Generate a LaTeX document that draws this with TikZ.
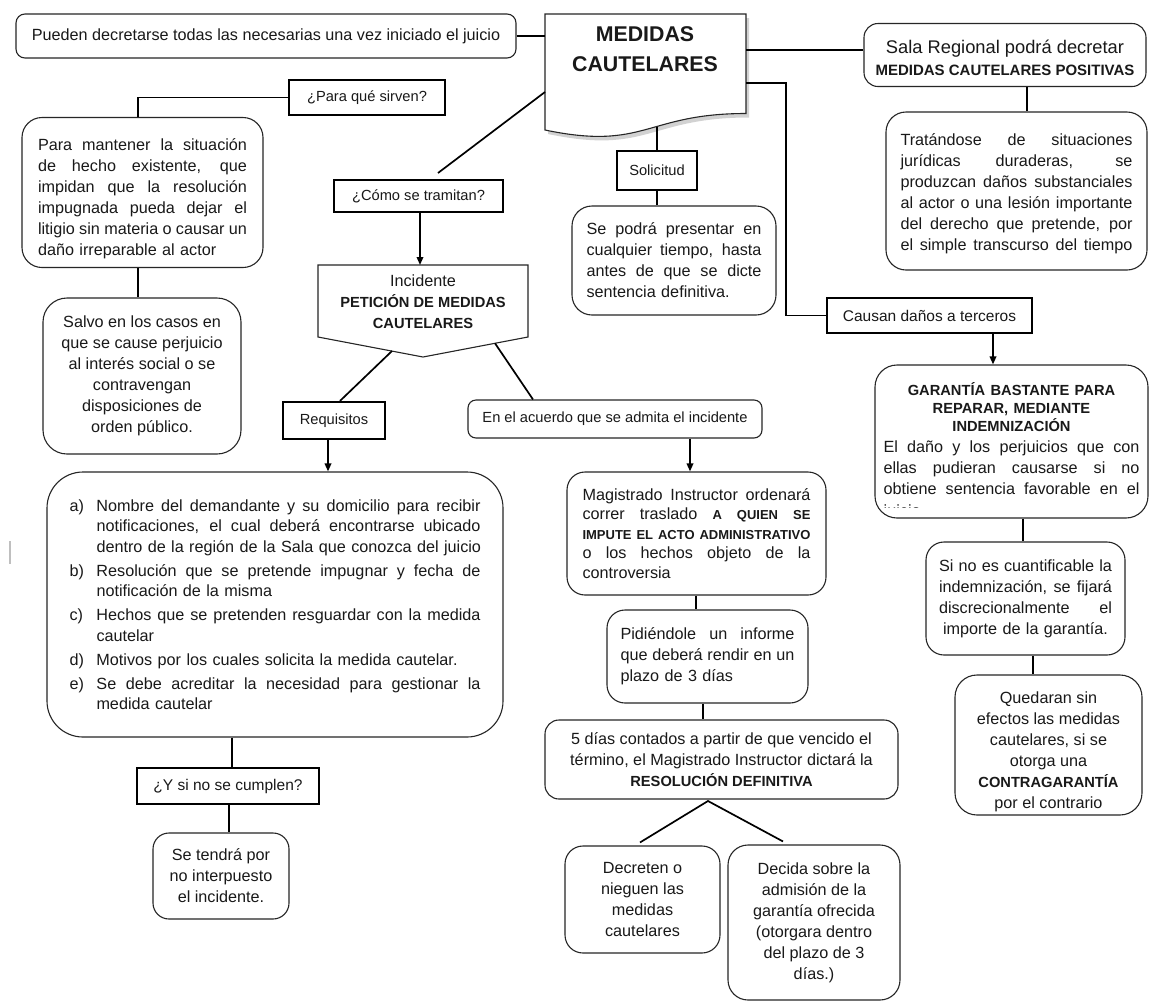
\documentclass[tikz,border=0pt]{standalone}
\usepackage{fontspec}
\setmainfont{Liberation Sans}
\usetikzlibrary{arrows.meta,shadows}

% justified line (spaces stretch to fill), left-aligned last line, list lines
\newcommand\jsp{\spaceskip=0.278em plus 1fil minus 0.15em\relax}
\newcommand\jl[1]{\makebox[\linewidth][s]{\jsp#1}}
\newcommand\lf[1]{\makebox[\linewidth][l]{#1}}
\newcommand\reqi[2]{\makebox[27pt][l]{#1}\makebox[384pt][s]{\jsp#2}}
\newcommand\reqj[1]{\hspace*{27pt}\makebox[384pt][s]{\jsp#1}}
\newcommand\reql[1]{\hspace*{27pt}\makebox[384pt][l]{#1}}
\newcommand\capsb{\fontsize{14.67}{18}\selectfont\bfseries}
\newcommand\regtext{\fontsize{16.2}{21}\selectfont\mdseries}

\begin{document}
\begin{tikzpicture}[x=1pt,y=-1pt,
  every node/.style={inner sep=0pt, font=\fontsize{16.2}{21}\selectfont, text=black!90},
  rbox/.style={draw=black!85, line width=1.1pt, rounded corners=18pt},
  sbox/.style={draw=black, line width=2.2pt, font=\fontsize{14.67}{18}\selectfont},
  sboxl/.style={sbox, font=\fontsize{15.5}{18}\selectfont},
  link/.style={draw=black, line width=1.7pt},
  arr/.style={link, -{Triangle[length=8pt,width=6.5pt]}},
  ]
\fill[white] (0,0) rectangle (1149,1005);
\useasboundingbox (0,0) rectangle (1149,1005);

% ---------- title document shape ----------
\path[draw=black!85, line width=1.1pt, fill=white,
  drop shadow={shadow xshift=3pt, shadow yshift=-4pt, opacity=0.35}]
  (545,14) -- (746,14) -- (746,113.5) .. controls (645.5,113.5) and (645.5,151) .. (545,130) -- cycle;
\node[font=\fontsize{21.33}{30}\selectfont\bfseries, align=center] (medidas) at (645,49) {MEDIDAS\\CAUTELARES};
\coordinate (medW) at (545,36);
\coordinate (medE1) at (746,50);
\coordinate (medE2) at (746,83);
\coordinate (medSW) at (545,92);
\coordinate (medS) at (657,126.5);
\coordinate (bendC) at (786,83);

% ---------- top row ----------
\node[rbox, rounded corners=9pt, minimum width=500pt, minimum height=44pt] (pueden) at (266,36)
  {Pueden decretarse todas las necesarias una vez iniciado el juicio};
\node[rbox, rounded corners=14pt, minimum width=282pt, minimum height=63pt] (sala) at (1005,55) {};
\node[align=center, font=\fontsize{18.3}{22}\selectfont] (salaT) at (1005,57.5)
  {Sala Regional podrá decretar\\{\fontsize{15}{18}\selectfont\bfseries MEDIDAS CAUTELARES POSITIVAS}};

% ---------- right column ----------
\node[rbox, rounded corners=20pt, minimum width=261pt, minimum height=158pt] (trat) at (1016.5,191) {};
\node[text width=232pt, align=center] (tratT) at (1016.5,194)
  {\jl{Tratándose de situaciones}\\ \jl{jurídicas duraderas, se}\\ \jl{produzcan daños substanciales}\\
   \jl{al actor o una lesión importante}\\ \jl{del derecho que pretende, por}\\ \jl{el simple transcurso del tiempo}};
\node[sboxl, minimum width=205pt, minimum height=35pt] (causan) at (929.5,315.5) {Causan daños a terceros};
\node[rbox, rounded corners=22pt, minimum width=273pt, minimum height=153pt] (garantia) at (1011.5,441.5) {};
\node[text width=256pt, align=center] (garantiaT) at (1011.5,438.5)
  {\capsb GARANTÍA BASTANTE PARA\\ REPARAR, MEDIANTE\\ INDEMNIZACIÓN\\
   \regtext\jl{El daño y los perjuicios que con}\\ \jl{ellas pudieran causarse si no}\\ \jl{obtiene sentencia favorable en el}};
\begin{scope}
  \clip (876,380) rectangle (1147,507);
  \node[anchor=base west] (juicio) at (883.5,516) {juicio};
\end{scope}
\node[rbox, rounded corners=18pt, minimum width=199pt, minimum height=113pt, text width=173pt, align=center] (sino) at (1025.5,598.5)
  {\jl{Si no es cuantificable la}\\ \jl{indemnización, se fijará}\\ \jl{discrecionalmente el}\\ importe de la garantía.};
\node[rbox, rounded corners=22pt, minimum width=187pt, minimum height=140pt] (qued) at (1048.5,745) {};
\node[align=center] (quedT) at (1048.5,751.5)
  {Quedaran sin\\ efectos las medidas\\ cautelares, si se\\ otorga una\\ {\capsb CONTRAGARANTÍA}\\ por el contrario};

% ---------- left column ----------
\node[sbox, minimum width=156pt, minimum height=35pt] (sirven) at (367,97.5) {¿Para qué sirven?};
\node[rbox, rounded corners=20pt, minimum width=241pt, minimum height=150pt] (paramant) at (142.5,192.5) {};
\node[text width=209pt, align=center] (paramantT) at (142.5,198.5)
  {\jl{Para mantener la situación}\\ \jl{de hecho existente, que}\\ \jl{impidan que la resolución}\\
   \jl{impugnada pueda dejar el}\\ \jl{litigio sin materia o causar un}\\ \lf{daño irreparable al actor}};
\node[rbox, rounded corners=24pt, minimum width=198pt, minimum height=156pt, align=center] (salvo) at (142,376)
  {Salvo en los casos en\\ que se cause perjuicio\\ al interés social o se\\ contravengan\\ disposiciones de\\ orden público.};

% ---------- procedure ----------
\node[sbox, minimum width=169pt, minimum height=32pt] (como) at (418.5,196) {¿Cómo se tramitan?};
\draw[draw=black!85, line width=1.1pt] (318,265) -- (528,265) -- (528,337) -- (423,357) -- (318,337) -- cycle;
\node[align=center] (incid) at (423,302) {Incidente\\ {\capsb PETICIÓN DE MEDIDAS}\\ {\capsb CAUTELARES}};
\node[sbox, minimum width=102pt, minimum height=37pt] (requis) at (334,420.5) {Requisitos};
\node[rbox, rounded corners=8pt, minimum width=294pt, minimum height=38pt, font=\fontsize{14.67}{18}\selectfont] (acuerdo) at (615,419)
  {En el acuerdo que se admita el incidente};
\node[rbox, rounded corners=36pt, minimum width=456pt, minimum height=265pt, text width=411pt, align=left,
      font=\fontsize{16.2}{20.5}\selectfont] (reqlist) at (275,604.5)
  {\reqi{a)}{Nombre del demandante y su domicilio para recibir}\\
   \reqj{notificaciones, el cual deberá encontrarse ubicado}\\
   \reql{dentro de la región de la Sala que conozca del juicio}\\[3.5pt]
   \reqi{b)}{Resolución que se pretende impugnar y fecha de}\\
   \reql{notificación de la misma}\\[3.5pt]
   \reqi{c)}{Hechos que se pretenden resguardar con la medida}\\
   \reql{cautelar}\\[3.5pt]
   \makebox[27pt][l]{d)}\makebox[384pt][l]{Motivos por los cuales solicita la medida cautelar.}\\[3.5pt]
   \reqi{e)}{Se debe acreditar la necesidad para gestionar la}\\
   \reql{medida cautelar}};
\node[sboxl, minimum width=182pt, minimum height=36pt] (ysino) at (228,786) {¿Y si no se cumplen?};
\node[rbox, rounded corners=16pt, minimum width=136pt, minimum height=86pt, align=center] (setendra) at (221,876)
  {Se tendrá por\\ no interpuesto\\ el incidente.};

% ---------- middle column ----------
\node[sbox, minimum width=80pt, minimum height=39pt] (solic) at (657,170.5) {Solicitud};
\node[rbox, rounded corners=20pt, minimum width=204pt, minimum height=109pt, text width=175pt, align=center] (sepodra) at (674,260.5)
  {\jl{Se podrá presentar en}\\ \jl{cualquier tiempo, hasta}\\ \jl{antes de que se dicte}\\ \lf{sentencia definitiva.}};
\node[rbox, rounded corners=18pt, minimum width=259pt, minimum height=123pt, text width=228pt, align=center,
      font=\fontsize{16.2}{19.5}\selectfont] (magis) at (696.5,533.5)
  {\jl{Magistrado Instructor ordenará}\\
   \jl{correr traslado {\fontsize{13}{19.5}\selectfont\bfseries A QUIEN SE}}\\
   {\fontsize{13}{19.5}\selectfont\bfseries\jl{IMPUTE EL ACTO ADMINISTRATIVO}}\\
   \jl{o los hechos objeto de la}\\ \lf{controversia}};
\node[rbox, rounded corners=18pt, minimum width=201pt, minimum height=93pt, text width=174pt, align=center] (pidi) at (707.5,656.5)
  {\jl{Pidiéndole un informe}\\ \jl{que deberá rendir en un}\\ \lf{plazo de 3 días}};
\node[rbox, rounded corners=14pt, minimum width=353pt, minimum height=79pt, align=center] (cinco) at (721.5,759.5)
  {5 días contados a partir de que vencido el\\ término, el Magistrado Instructor dictará la\\ {\capsb RESOLUCIÓN DEFINITIVA}};
\node[rbox, rounded corners=18pt, minimum width=155pt, minimum height=107pt, align=center] (decr) at (642.5,899.5)
  {Decreten o\\ nieguen las\\ medidas\\ cautelares};
\node[rbox, rounded corners=20pt, minimum width=172pt, minimum height=155pt, align=center] (decida) at (814,922.5)
  {Decida sobre la\\ admisión de la\\ garantía ofrecida\\ (otorgara dentro\\ del plazo de 3\\ días.)};

% ---------- connectors ----------
\draw[link] (pueden.east) -- (medW);
\draw[link] (medE1) -- (medE1 -| sala.west);
\draw[link] ([xshift=22pt]sala.south) -- ([xshift=22pt]sala.south |- trat.north);
\draw[link] (medE2) -- (bendC) |- (causan.west);
\coordinate (xA) at (993,0);
\draw[arr] (causan.south -| xA) -- (garantia.north -| xA);
\coordinate (xB) at (1023,0);
\draw[link] (garantia.south -| xB) -- (sino.north -| xB);
\coordinate (xC) at (1033,0);
\draw[link] (sino.south -| xC) -- (qued.north -| xC);

\coordinate (xD) at (138,0);
\draw[link] (sirven.west) -| (paramant.north -| xD);
\draw[link] (paramant.south -| xD) -- (salvo.north -| xD);

\coordinate (comoTop) at (438,173);
\draw[link] (medSW) -- (comoTop);
\coordinate (incN) at (420,265);
\draw[arr] (como.south -| incN) -- (incN);
\coordinate (incSW) at (392,351);
\coordinate (incSE) at (495,343.3);
\coordinate (xF) at (340,0);
\draw[link] (incSW) -- (requis.north -| xF);
\coordinate (xG) at (533,0);
\draw[link] (incSE) -- (acuerdo.north -| xG);
\coordinate (xH) at (328,0);
\draw[arr] (requis.south -| xH) -- (reqlist.north -| xH);
\coordinate (xI) at (232,0);
\draw[link] (reqlist.south -| xI) -- (ysino.north -| xI);
\coordinate (xJ) at (229,0);
\draw[link] (ysino.south -| xJ) -- (setendra.north -| xJ);

\draw[link] (medS) -- (solic.north);
\draw[link] (solic.south) -- (solic.south |- sepodra.north);
\coordinate (xK) at (690,0);
\draw[arr] (acuerdo.south -| xK) -- (magis.north -| xK);
\coordinate (xL) at (696,0);
\draw[link] (magis.south -| xL) -- (pidi.north -| xL);
\coordinate (xM) at (703,0);
\draw[link] (pidi.south -| xM) -- (cinco.north -| xM);
\coordinate (vApex) at (708,801);
\coordinate (xN) at (640,0);
\coordinate (xO) at (783,0);
\draw[link] ([yshift=3pt]decr.north -| xN) -- (vApex) -- ([yshift=3pt]decida.north -| xO);

% faint mark at the left margin
\draw[black!25, line width=1.2pt] (10,541) -- (10,564);
\end{tikzpicture}
\end{document}
